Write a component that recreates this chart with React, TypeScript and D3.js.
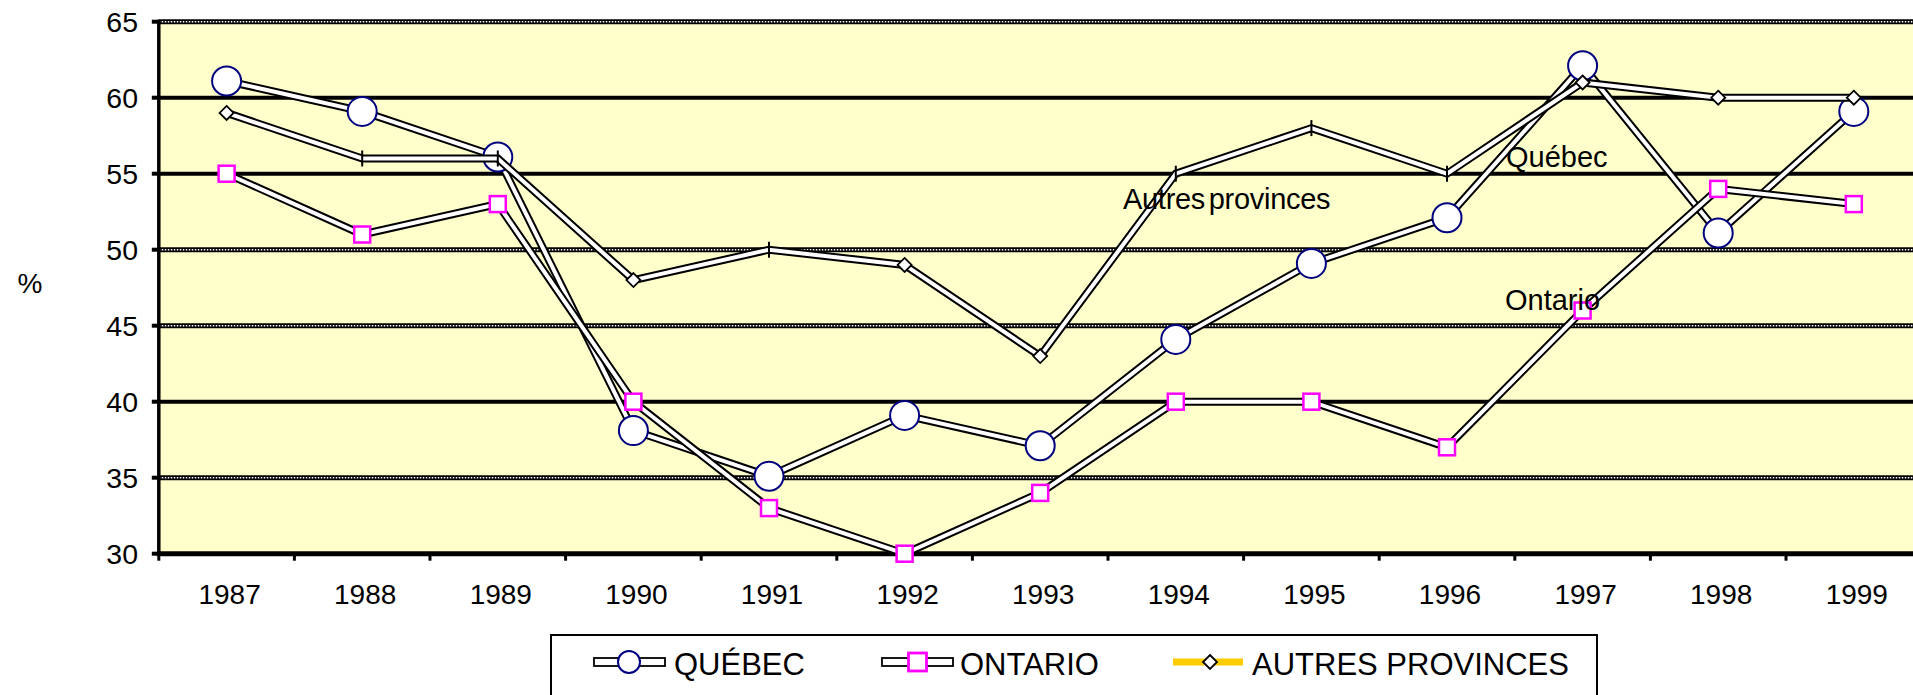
import React from "react";
import * as d3 from "d3";

const years = ["1987","1988","1989","1990","1991","1992","1993","1994","1995","1996","1997","1998","1999"];
const quebec = [61.1, 59.1, 56.1, 38.1, 35.1, 39.1, 37.1, 44.1, 49.1, 52.1, 62.1, 51.1, 59.1];
const ontario = [55, 51, 53, 40, 33, 30, 34, 40, 40, 37, 46, 54, 53];
const autres = [59, 56, 56, 48, 50, 49, 43, 55, 58, 55, 61, 60, 60];
const yTicks = [30, 35, 40, 45, 50, 55, 60, 65];
const dottedGrid = [65, 50, 45, 35];
const autresTickYears = ["1988", "1989", "1991", "1994", "1995", "1996"];
const legendLabels = ["QUÉBEC", "ONTARIO", "AUTRES PROVINCES"];
const seriesLabels = ["Québec", "Ontario", "Autres provinces"];

const W = 1913, H = 695;
const FONT = "'Liberation Sans', Arial, sans-serif";

export default function App() {
  const plotL = 158.8, plotR = 1921.6, plotT = 21.7, plotB = 553.7;
  const x = d3.scaleBand<string>().domain(years).range([plotL, plotR]).padding(0);
  const cx = (yr: string) => (x(yr) as number) + x.bandwidth() / 2;
  const y = d3.scaleLinear().domain([30, 65]).range([plotB, plotT]);

  const line = d3.line<number>().x((_, i) => cx(years[i])).y((v) => y(v));

  const seriesPath = (vals: number[]) => (
    <g>
      <path d={line(vals) || ""} fill="none" stroke="#000" strokeWidth={8} strokeLinejoin="miter" />
      <path d={line(vals) || ""} fill="none" stroke="#fff" strokeWidth={4} strokeLinejoin="miter" />
    </g>
  );

  const diamond = (px: number, py: number, r: number, key?: any) => (
    <path key={key} d={`M${px},${py - r}L${px + r},${py}L${px},${py + r}L${px - r},${py}Z`} fill="#fff" stroke="#000" strokeWidth={1.8} />
  );

  const legendY = 662;
  const legendItems = [
    { x0: 594, text: 674 },
    { x0: 882, text: 960 },
    { x0: 1173, text: 1252 },
  ];

  return (
    <svg width={W} height={H} style={{ position: "absolute", left: 0, top: 0 }} fontFamily={FONT}>
      <rect x={0} y={0} width={W} height={H} fill="#fff" />
      <rect x={plotL} y={plotT} width={plotR - plotL} height={plotB - plotT} fill="#FFFFCC" />
      {yTicks.filter((t) => t !== 30).map((t) =>
        dottedGrid.includes(t) ? (
          <g key={t}>
            <line x1={plotL} x2={plotR} y1={y(t)} y2={y(t)} stroke="#000" strokeWidth={5} />
            <line x1={plotL} x2={plotR} y1={y(t)} y2={y(t)} stroke="#fff" strokeWidth={1.5} strokeDasharray="1.5 1.5" />
          </g>
        ) : (
          <line key={t} x1={plotL} x2={plotR} y1={y(t)} y2={y(t)} stroke="#000" strokeWidth={4} />
        )
      )}
      <line x1={plotL} x2={plotL} y1={plotT - 2} y2={plotB + 2} stroke="#000" strokeWidth={3.5} />
      <line x1={plotL - 2} x2={plotR} y1={plotB} y2={plotB} stroke="#000" strokeWidth={5} />
      {yTicks.map((t) => (
        <g key={"yt" + t}>
          <line x1={plotL - 7} x2={plotL} y1={y(t)} y2={y(t)} stroke="#000" strokeWidth={4} />
          <text x={138} y={y(t)} dy="0.36em" textAnchor="end" fontSize={28.5} fill="#000">{t}</text>
        </g>
      ))}
      {years.map((yr) => (
        <g key={"xt" + yr}>
          <line x1={x(yr) as number} x2={x(yr) as number} y1={plotB} y2={plotB + 7} stroke="#000" strokeWidth={3} />
          <text x={cx(yr) + 3} y={604} textAnchor="middle" fontSize={28} fill="#000">{yr}</text>
        </g>
      ))}
      <line x1={plotR} x2={plotR} y1={plotB} y2={plotB + 7} stroke="#000" strokeWidth={3} />
      <text x={30} y={293} textAnchor="middle" fontSize={28} fill="#000">%</text>

      {seriesPath(quebec)}
      {quebec.map((v, i) => (
        <circle key={"q" + i} cx={cx(years[i])} cy={y(v)} r={14.5} fill="#fff" stroke="#000080" strokeWidth={2} />
      ))}
      {seriesPath(ontario)}
      {ontario.map((v, i) => (
        <rect key={"o" + i} x={cx(years[i]) - 8} y={y(v) - 8} width={16} height={16} fill="#fff" stroke="#FF00FF" strokeWidth={2.5} />
      ))}
      {seriesPath(autres)}
      {autres.map((v, i) =>
        autresTickYears.includes(years[i]) ? (
          <line key={"a" + i} x1={cx(years[i])} x2={cx(years[i])} y1={y(v) - 8} y2={y(v) + 8} stroke="#000" strokeWidth={2} />
        ) : (
          diamond(cx(years[i]), y(v), 7, "a" + i)
        )
      )}

      <text x={1506} y={167} fontSize={29} fill="#000">{seriesLabels[0]}</text>
      <text x={1505} y={310} fontSize={29} fill="#000">{seriesLabels[1]}</text>
      <text x={1123} y={209} fontSize={29} fill="#000" letterSpacing={-0.3} wordSpacing={-4}>{seriesLabels[2]}</text>

      <rect x={551} y={635} width={1046} height={80} fill="#fff" stroke="#000" strokeWidth={2} />
      <rect x={legendItems[0].x0} y={legendY - 4} width={71} height={8} fill="#fff" stroke="#000" strokeWidth={1.8} />
      <circle cx={legendItems[0].x0 + 35} cy={legendY} r={11} fill="#fff" stroke="#000080" strokeWidth={2} />
      <rect x={legendItems[1].x0} y={legendY - 4} width={71} height={8} fill="#fff" stroke="#000" strokeWidth={1.8} />
      <rect x={legendItems[1].x0 + 35.5 - 9} y={legendY - 9} width={18} height={18} fill="#fff" stroke="#FF00FF" strokeWidth={2.8} />
      <line x1={legendItems[2].x0} x2={legendItems[2].x0 + 70} y1={legendY} y2={legendY} stroke="#FFCC00" strokeWidth={7} />
      {diamond(legendItems[2].x0 + 37, legendY, 7)}
      {legendLabels.map((l, i) => (
        <text key={l} x={legendItems[i].text} y={675} fontSize={31} fill="#000">{l}</text>
      ))}
    </svg>
  );
}
